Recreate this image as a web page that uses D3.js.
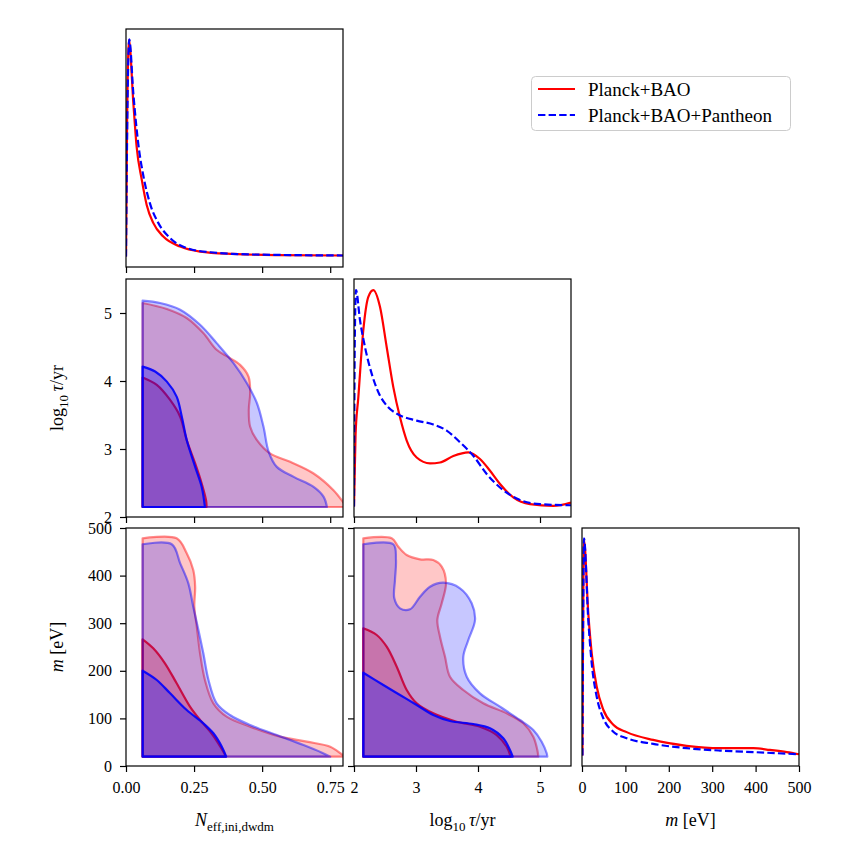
<!DOCTYPE html>
<html>
<head>
<meta charset="utf-8">
<script src="https://cdn.jsdelivr.net/npm/d3@7"></script>
<style>
  body { margin: 0; background: #fff; }
  text { font-family: "Liberation Serif", "Times New Roman", serif; fill: #000; }
</style>
</head>
<body>
<div id="chart"></div>
<script>
        //axis ranges and tick values
        var neffRange = [0, 0.797], tauRange = [2, 5.5], massRange = [0, 500];
        var neffTicks = [0, 0.25, 0.5, 0.75];
        var tauTicks = [2, 3, 4, 5];
        var massTicks = [0, 100, 200, 300, 400, 500];
        var seriesNames = ["Planck+BAO", "Planck+BAO+Pantheon"];

        //1D marginals, peak normalised to 1
        var neffRed = [[0, 0], [0.004, 0.62], [0.011, 0.997], [0.027, 0.707], [0.039, 0.506], [0.058, 0.353], [0.076, 0.238], [0.100, 0.155], [0.137, 0.092], [0.199, 0.046], [0.272, 0.023], [0.393, 0.012], [0.55, 0.007], [0.80, 0.005]];
        var neffBlue = [[0, 0], [0.005, 0.65], [0.012, 1.0], [0.027, 0.75], [0.045, 0.52], [0.064, 0.37], [0.088, 0.245], [0.119, 0.154], [0.162, 0.085], [0.223, 0.039], [0.309, 0.020], [0.45, 0.010], [0.80, 0.005]];

        var tauRed = [[2.0, 0.0], [2.025, 0.33], [2.069, 0.5], [2.15, 0.812], [2.231, 0.966], [2.311, 0.997], [2.419, 0.92], [2.527, 0.735], [2.634, 0.55], [2.742, 0.411], [2.85, 0.304], [3.011, 0.226], [3.226, 0.199], [3.387, 0.203], [3.602, 0.233], [3.844, 0.25], [4.032, 0.219], [4.194, 0.165], [4.355, 0.104], [4.569, 0.042], [4.839, 0.011], [5.215, 0.003], [5.5, 0.018]];
        var tauBlue = [[2.0, 0.0], [2.012, 0.75], [2.032, 0.997], [2.097, 0.858], [2.177, 0.735], [2.285, 0.612], [2.392, 0.527], [2.527, 0.465], [2.715, 0.424], [3.011, 0.396], [3.279, 0.378], [3.495, 0.35], [3.71, 0.296], [3.924, 0.234], [4.14, 0.15], [4.355, 0.088], [4.624, 0.037], [5.0, 0.011], [5.5, 0.006]];

        var massRed = [[1, 0], [4.6, 0.992], [14.5, 0.655], [22.4, 0.471], [33.9, 0.317], [49.1, 0.211], [72.1, 0.142], [103, 0.108], [164, 0.072], [241, 0.045], [318, 0.034], [395, 0.034], [433, 0.026], [472, 0.016], [500, 0.006]];
        var massBlue = [[1, 0], [4.6, 1.0], [14.5, 0.624], [22.4, 0.425], [33.9, 0.271], [49.1, 0.172], [72.1, 0.11], [103, 0.08], [164, 0.054], [241, 0.034], [318, 0.023], [395, 0.016], [500, 0.006]];

        //2D contours (95% and 68%), traced from the left edge round to the bottom edge
        var neffTauRed95 = [[0.061, 5.147], [0.150, 5.059], [0.223, 4.926], [0.284, 4.705], [0.333, 4.459], [0.376, 4.351], [0.419, 4.237], [0.450, 4.065], [0.456, 3.82], [0.451, 3.574], [0.456, 3.327], [0.481, 3.131], [0.529, 2.935], [0.603, 2.811], [0.689, 2.64], [0.762, 2.394], [0.797, 2.221], [0.81, 2.147]];
        var neffTauRed68 = [[0.061, 4.05], [0.113, 3.942], [0.162, 3.721], [0.199, 3.475], [0.223, 3.131], [0.254, 2.788], [0.278, 2.493], [0.294, 2.246], [0.296, 2.147]];
        var neffTauBlue95 = [[0.061, 5.181], [0.125, 5.147], [0.199, 5.049], [0.272, 4.827], [0.333, 4.557], [0.395, 4.262], [0.444, 3.967], [0.481, 3.673], [0.505, 3.327], [0.524, 2.959], [0.554, 2.737], [0.616, 2.59], [0.689, 2.442], [0.726, 2.295], [0.738, 2.147]];
        var neffTauBlue68 = [[0.061, 4.212], [0.107, 4.139], [0.150, 3.991], [0.186, 3.77], [0.205, 3.475], [0.223, 3.131], [0.254, 2.737], [0.278, 2.442], [0.290, 2.147]];

        var neffMassRed95 = [[0.061, 478.3], [0.186, 478.3], [0.223, 446.8], [0.247, 411.8], [0.254, 376.7], [0.251, 334.7], [0.260, 292.6], [0.272, 236.8], [0.290, 180.7], [0.321, 131.7], [0.370, 103.6], [0.456, 82.6], [0.566, 61.6], [0.664, 51.1], [0.75, 40.5], [0.797, 23.1], [0.81, 19.5]];
        var neffMassRed68 = [[0.061, 266.2], [0.100, 247.3], [0.143, 215.8], [0.186, 173.7], [0.235, 124.6], [0.272, 96.6], [0.309, 72.1], [0.339, 47.7], [0.364, 23.1], [0.366, 19.5]];
        var neffMassBlue95 = [[0.061, 465.8], [0.168, 465.8], [0.199, 425.8], [0.229, 383.8], [0.247, 334.7], [0.266, 285.7], [0.284, 236.8], [0.303, 180.7], [0.333, 131.7], [0.382, 107.1], [0.456, 86.1], [0.554, 65.1], [0.652, 44.1], [0.72, 28], [0.75, 19.5]];
        var neffMassBlue68 = [[0.061, 200.2], [0.113, 180.7], [0.162, 152.7], [0.223, 117.6], [0.284, 89.7], [0.321, 68.7], [0.352, 40.5], [0.368, 19.5]];

        var tauMassRed95 = [[2.15, 478.3], [2.608, 478.3], [2.715, 460.7], [2.85, 443.3], [3.065, 434.2], [3.279, 432.8], [3.415, 418.7], [3.484, 383.8], [3.415, 341.8], [3.344, 306.7], [3.387, 271.6], [3.468, 229.6], [3.548, 187.6], [3.763, 159.7], [4.085, 131.7], [4.463, 110.7], [4.731, 89.7], [4.892, 61.6], [4.957, 33.6], [4.973, 19.5]];
        var tauMassRed68 = [[2.15, 289.3], [2.366, 275.2], [2.527, 250.6], [2.689, 208.6], [2.85, 159.7], [3.011, 131.7], [3.279, 110.7], [3.656, 93.1], [4.032, 82.6], [4.302, 65.1], [4.463, 40.5], [4.527, 19.5]];
        var tauMassBlue95 = [[2.15, 465.8], [2.634, 465.8], [2.677, 432.8], [2.661, 390.8], [2.65, 352.3], [2.742, 331.3], [2.903, 329.2], [3.065, 355.7], [3.226, 376.7], [3.44, 385.1], [3.71, 373.3], [3.898, 341.8], [3.952, 306.7], [3.844, 264.7], [3.763, 229.6], [3.818, 187.6], [4.032, 152.7], [4.355, 124.6], [4.677, 96.6], [4.892, 75.6], [5.027, 51.1], [5.108, 26.7], [5.118, 19.5]];
        var tauMassBlue68 = [[2.15, 196], [2.473, 170.2], [2.742, 149.2], [3.011, 128.2], [3.279, 107.1], [3.548, 94.5], [3.924, 88.2], [4.194, 79.2], [4.408, 58.2], [4.516, 33.6], [4.56, 19.5]];

        //layout of the corner grid
        var colX = [126, 354, 582], rowY = [29, 279, 528];
        var pw = 217, ph = 238;
        var red = "#ff0000", blue = "#0000ff";

        var svg = d3.select("#chart").append("svg")
            .attr("width", 842)
            .attr("height", 842);

        //scales (shared by every panel in a row/column)
        var xNeff = d3.scaleLinear().domain(neffRange).range([0, pw]);
        var xTau = d3.scaleLinear().domain(tauRange).range([0, pw]);
        var xMass = d3.scaleLinear().domain(massRange).range([0, pw]);
        var yTau = d3.scaleLinear().domain(tauRange).range([ph, 0]);
        var yMass = d3.scaleLinear().domain(massRange).range([ph, 0]);
        var yPdf = d3.scaleLinear().domain([-0.048, 1.048]).range([ph, 0]);

        var clipCount = 0;
        function makePanel(r, c) {
            var g = svg.append("g")
                .attr("transform", "translate(" + colX[c] + "," + rowY[r] + ")");
            var id = "clip" + (clipCount++);
            g.append("clipPath").attr("id", id)
                .append("rect").attr("width", pw).attr("height", ph);
            g.inner = g.append("g").attr("clip-path", "url(#" + id + ")");
            return g;
        }

        function drawPdf(g, xs, redData, blueData) {
            var line = d3.line()
                .x(function (d) { return xs(d[0]); })
                .y(function (d) { return yPdf(d[1]); })
                .curve(d3.curveMonotoneX);
            g.inner.append("path").datum(redData)
                .attr("d", line).attr("fill", "none")
                .attr("stroke", red).attr("stroke-width", 2.2);
            g.inner.append("path").datum(blueData)
                .attr("d", line).attr("fill", "none")
                .attr("stroke", blue).attr("stroke-width", 2.2)
                .attr("stroke-dasharray", "7.4,3.2");
        }

        function contourPath(xs, ys, pts) {
            var line = d3.line()
                .x(function (d) { return xs(d[0]); })
                .y(function (d) { return ys(d[1]); })
                .curve(d3.curveCatmullRom.alpha(0.5));
            //close through the grid corner (left edge x, bottom edge y)
            var cx = xs(pts[0][0]), cy = ys(pts[pts.length - 1][1]);
            return line(pts) + "L" + cx + "," + cy + "Z";
        }

        function drawContours(g, xs, ys, r95, r68, b95, b68) {
            var levels = [[r95, red, 0.22, 0.45], [r68, red, 0.25, 0.9],
                          [b95, blue, 0.22, 0.45], [b68, blue, 0.3, 0.9]];
            levels.forEach(function (l) {
                g.inner.append("path")
                    .attr("d", contourPath(xs, ys, l[0]))
                    .attr("fill", l[1]).attr("fill-opacity", l[2])
                    .attr("stroke", l[1]).attr("stroke-opacity", l[3])
                    .attr("stroke-width", 2.2)
                    .attr("stroke-linejoin", "round");
            });
        }

        function styleAxis(a) {
            a.attr("font-family", null).attr("font-size", null);
            a.select(".domain").remove();
            a.selectAll(".tick line").attr("stroke", "#000").attr("stroke-width", 1.2);
            a.selectAll("text").attr("font-size", 16).attr("fill", "#000");
        }

        function bottomAxis(g, xs, ticks, fmt) {
            g.append("g")
                .attr("transform", "translate(0," + ph + ")")
                .call(d3.axisBottom(xs).tickValues(ticks).tickSize(6).tickPadding(10)
                    .tickFormat(fmt ? fmt : ""))
                .call(styleAxis);
        }

        function leftAxis(g, ys, ticks, fmt) {
            g.append("g")
                .call(d3.axisLeft(ys).tickValues(ticks).tickSize(6).tickPadding(8)
                    .tickFormat(fmt ? fmt : ""))
                .call(styleAxis);
        }

        function frame(g) {
            g.append("rect").attr("width", pw).attr("height", ph)
                .attr("fill", "none").attr("stroke", "#000").attr("stroke-width", 1.2);
        }

        var f2 = d3.format(".2f"), fd = d3.format("d");

        //row 0
        var p00 = makePanel(0, 0);
        drawPdf(p00, xNeff, neffRed, neffBlue);
        bottomAxis(p00, xNeff, neffTicks);
        frame(p00);

        //row 1
        var p10 = makePanel(1, 0);
        drawContours(p10, xNeff, yTau, neffTauRed95, neffTauRed68, neffTauBlue95, neffTauBlue68);
        bottomAxis(p10, xNeff, neffTicks);
        leftAxis(p10, yTau, tauTicks, fd);
        frame(p10);

        var p11 = makePanel(1, 1);
        drawPdf(p11, xTau, tauRed, tauBlue);
        bottomAxis(p11, xTau, tauTicks);
        frame(p11);

        //row 2
        var p20 = makePanel(2, 0);
        drawContours(p20, xNeff, yMass, neffMassRed95, neffMassRed68, neffMassBlue95, neffMassBlue68);
        bottomAxis(p20, xNeff, neffTicks, f2);
        leftAxis(p20, yMass, massTicks, fd);
        frame(p20);

        var p21 = makePanel(2, 1);
        drawContours(p21, xTau, yMass, tauMassRed95, tauMassRed68, tauMassBlue95, tauMassBlue68);
        bottomAxis(p21, xTau, tauTicks, fd);
        leftAxis(p21, yMass, massTicks);
        frame(p21);

        var p22 = makePanel(2, 2);
        drawPdf(p22, xMass, massRed, massBlue);
        bottomAxis(p22, xMass, massTicks, fd);
        frame(p22);

        //axis titles, written as small math-like pieces
        function mathText(sel, parts) {
            var shift = 0;
            parts.forEach(function (p) {
                var t = sel.append("tspan").text(p.t);
                var target = p.sub ? 5 : 0;
                if (target !== shift) { t.attr("dy", target - shift); shift = target; }
                if (p.sub) t.attr("font-size", 13);
                if (p.it) t.attr("font-style", "italic");
            });
        }
        var neffLabel = [{t: "N", it: true}, {t: "eff,ini,dwdm", sub: true}];
        var tauLabel = [{t: "log"}, {t: "10", sub: true}, {t: "\u2009"}, {t: "\u03c4", it: true}, {t: "/yr"}];
        var massLabel = [{t: "m", it: true}, {t: "\u00a0[eV]"}];

        [[neffLabel, 0], [tauLabel, 1], [massLabel, 2]].forEach(function (l) {
            var t = svg.append("text")
                .attr("x", colX[l[1]] + pw / 2).attr("y", 826)
                .attr("text-anchor", "middle").attr("font-size", 18);
            mathText(t, l[0]);
        });
        [[tauLabel, 1], [massLabel, 2]].forEach(function (l) {
            var t = svg.append("text")
                .attr("transform", "translate(63," + (rowY[l[1]] + ph / 2) + ") rotate(-90)")
                .attr("text-anchor", "middle").attr("font-size", 18);
            mathText(t, l[0]);
        });

        //legend
        var legend = svg.append("g").attr("transform", "translate(531,76)");
        legend.append("rect")
            .attr("x", 0.5).attr("y", 0.5).attr("width", 259).attr("height", 54).attr("rx", 4)
            .attr("fill", "#fff").attr("fill-opacity", 0.8)
            .attr("stroke", "#cccccc").attr("stroke-width", 1);
        seriesNames.forEach(function (name, i) {
            var yy = 13 + i * 26;
            legend.append("line")
                .attr("x1", 7).attr("x2", 44).attr("y1", yy).attr("y2", yy)
                .attr("stroke", i === 0 ? red : blue).attr("stroke-width", 2.2)
                .attr("stroke-dasharray", i === 0 ? null : "7.4,3.2");
            legend.append("text")
                .attr("x", 57).attr("y", yy + 6.5)
                .attr("font-size", 19)
                .text(name);
        });
</script>
</body>
</html>
